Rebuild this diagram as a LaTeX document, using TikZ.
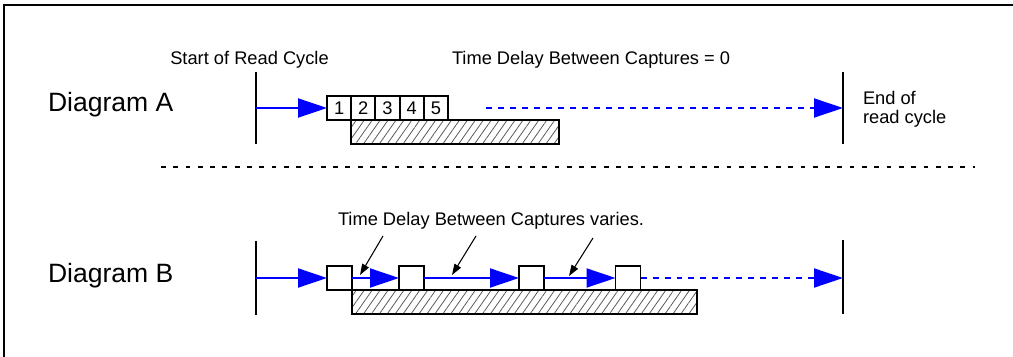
\documentclass[tikz,border=0pt]{standalone}
\usepackage{fontspec}
\setmainfont{Liberation Sans}
\usetikzlibrary{arrows.meta, positioning, patterns.meta}

\begin{document}
\begin{tikzpicture}[x=0.02cm,y=-0.02cm]
    \tikzstyle{every node} = [font=\fontsize{10.4}{10.9}\selectfont, inner sep=0pt, outer sep=0pt]
    \tikzstyle{title} = [font=\fontsize{15.1}{18}\selectfont, anchor=base west]
    \tikzstyle{slot} = [draw, line width=1.1pt, fill=white, minimum width=0.484cm, minimum height=0.48cm]
    \tikzstyle{hatch} = [draw, line width=1.1pt, anchor=north west, minimum height=0.48cm, pattern={Lines[angle=55,distance=3.7pt,line width=0.45pt]}, pattern color=black!65]
    \tikzstyle{bar} = [line width=1.2pt]
    \tikzstyle{flow} = [blue, line width=1.1pt, -{Triangle[length=0.58cm,width=0.38cm]}]
    \tikzstyle{later} = [dash pattern=on 0.12cm off 0.12cm]
    \tikzstyle{pointer} = [line width=0.6pt, -{Triangle[length=0.22cm,width=0.15cm]}]

    \useasboundingbox (0,0) rectangle (1013,357);
    % frame
    \draw[line width=1.1pt] (1013,5) -- (4,5) -- (4,357);

    % place nodes
    \node[title] (diagA) at (48,112) {Diagram A};
    \node[title] (diagB) at (48,283) {Diagram B};

    \coordinate (startA) at (256,108);
    \coordinate (endA) at (843,108);
    \coordinate (dashA) at (486,108);
    \coordinate (startB) at (256,278);
    \coordinate (endB) at (843,278);

    \node[anchor=base] (startLabel) at (249.5,65) {Start of Read Cycle};
    \node[anchor=base west] (delayA) at (452,65) {Time Delay Between Captures = 0};
    \node[anchor=north west, align=left] (endLabel) at (863,91.5) {End of\\read cycle};
    \node[anchor=base west] (delayB) at (338,226) {Time Delay Between Captures varies.};

    % captures, diagram A
    \node[slot] (a1) at (339.1,108) {1};
    \node[slot, right=0pt of a1] (a2) {2};
    \node[slot, right=0pt of a2] (a3) {3};
    \node[slot, right=0pt of a3] (a4) {4};
    \node[slot, right=0pt of a4] (a5) {5};
    \node[hatch, minimum width=4.16cm] (bufA) at (a2.south west) {};

    % captures, diagram B
    \node[slot, minimum width=0.5cm] (b1) at (339.5,278) {};
    \node[slot, minimum width=0.5cm] (b2) at (411.5,278) {};
    \node[slot, minimum width=0.5cm] (b3) at (531.5,278) {};
    \node[slot, minimum width=0.5cm] (b4) at (628,278) {};
    \node[hatch, minimum width=6.9cm] (bufB) at (b1.south east) {};

    % Connections
    \draw[bar] (startA) ++(0,-36) -- ++(0,72);
    \draw[bar] (endA) ++(0,-36) -- ++(0,72);
    \draw[bar] (startB) ++(0,-37) -- ++(0,74);
    \draw[bar] (endB) ++(0,-38) -- ++(0,74);

    \draw[flow] (startA) -- (a1.west);
    \draw[flow,later] (dashA) -- (endA);

    \draw[flow] (startB) -- (b1.west);
    \draw[flow] (b1.east) -- (b2.west);
    \draw[flow] (b2.east) -- (b3.west);
    \draw[flow] (b3.east) -- (b4.west);
    \draw[flow,later] (b4.east) -- (endB);

    % divider
    \draw[line width=0.85pt, dash pattern=on 2.7pt off 4.3pt] (161,167) -- (975,167);

    % pointers to the gaps
    \draw[pointer] (383,236) -- (360,275);
    \draw[pointer] (476,236) -- (452,275);
    \draw[pointer] (593,238) -- (569,276);
\end{tikzpicture}
\end{document}
